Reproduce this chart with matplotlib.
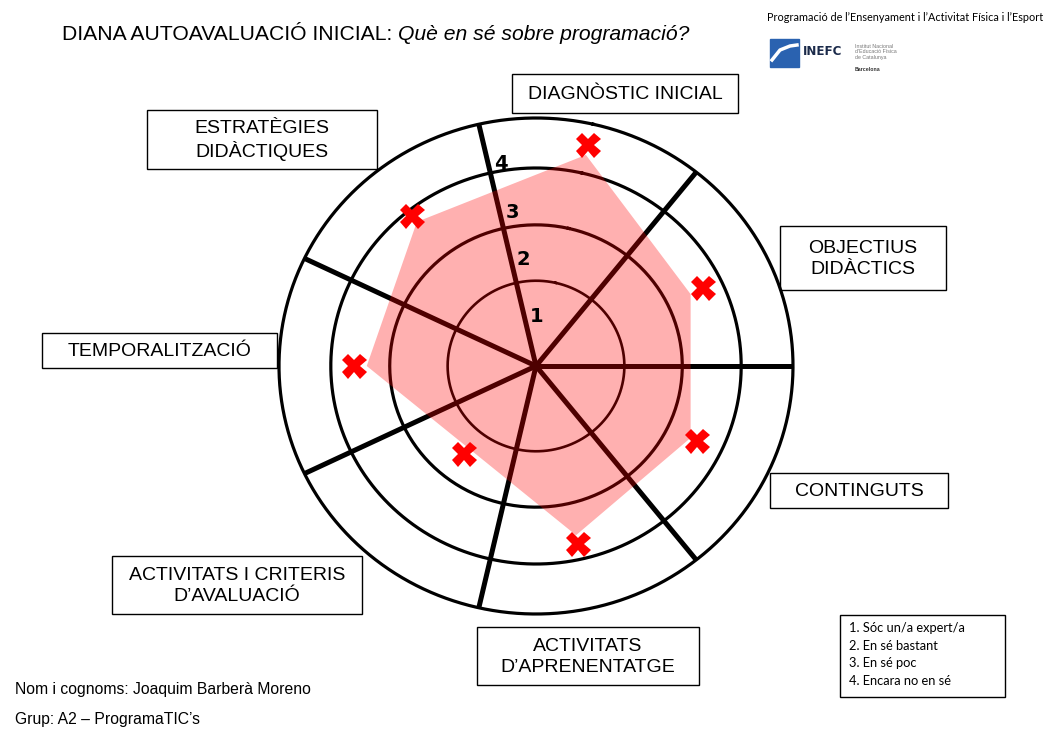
import numpy as np
import matplotlib
matplotlib.use("Agg")
import matplotlib.pyplot as plt
from matplotlib.patches import Rectangle

# ---------------- data ----------------
categories = ["DIAGNÒSTIC INICIAL", "OBJECTIUS\nDIDÀCTICS", "CONTINGUTS",
              "ACTIVITATS\nD’APRENENTATGE", "ACTIVITATS I CRITERIS\nD’AVALUACIÓ",
              "TEMPORALITZACIÓ", "ESTRATÈGIES\nDIDÀCTIQUES"]
scores = [3.58, 2.67, 2.55, 2.72, 1.48, 2.60, 2.89]          # red crosses
fill_scores = [3.37, 2.43, 2.43, 2.57, 1.35, 2.39, 2.76]     # shaded area vertices
ring_levels = [1, 2, 3, 4]
ring_labels = ["1", "2", "3", "4"]
legend_lines = ["1. Sóc un/a expert/a", "2. En sé bastant", "3. En sé poc", "4. Encara no en sé"]
title_main = "DIANA AUTOAVALUACIÓ INICIAL: "
title_italic = "Què en sé sobre programació?"
header = "Programació de l’Ensenyament i l’Activitat Física i l’Esport"
name_line = "Nom i cognoms: Joaquim Barberà Moreno"
group_line = "Grup: A2 – ProgramaTIC’s"

# ---------------- layout / style ----------------
W, H = 1045, 737
DPI = 100
ARIAL = "Liberation Sans"
CALIBRI = "Lato"
ring_radius = np.array([0, 87, 144, 202, 253]) / 253.0   # radius of each level boundary
label_pos = [0.6, 1.42, 2.29, 3.2]                        # where ring numbers sit (score units)
boxes = [  # cx, cy, w, h in pixels for each category box
    (625, 93.5, 226, 39),
    (863, 258, 166, 64),
    (859, 490.5, 178, 35),
    (588, 656, 222, 58),
    (237, 585, 250, 58),
    (159.5, 350.5, 235, 35),
    (262, 139.5, 230, 59),
]

fig = plt.figure(figsize=(W / DPI, H / DPI), dpi=DPI)
fig.patch.set_facecolor("white")

lay = fig.add_axes([0, 0, 1, 1])
lay.set_xlim(0, W)
lay.set_ylim(H, 0)
lay.axis("off")

# polar target (slightly wider than tall, as in the original drawing)
cx, cy, RX, RY = 536, 366, 257, 248
ax = fig.add_axes([(cx - RX) / W, (H - cy - RY) / H, 2 * RX / W, 2 * RY / H], projection="polar")
ax.set_aspect("auto")
ax.set_facecolor("none")
n = len(categories)
step = 2 * np.pi / n
ax.set_theta_offset(1.5 * step)      # one spoke pointing right, first category just right of top
ax.set_theta_direction(-1)
ax.set_ylim(0, 1)
ax.axis("off")

def to_r(s):
    return np.interp(s, np.arange(len(ring_radius)), ring_radius)

full = np.linspace(0, 2 * np.pi, 400)
for lev in ring_levels:
    lw = 1.9 if lev == 1 else 2.3
    ax.plot(full, np.full_like(full, to_r(lev)), color="black", lw=lw, clip_on=False, zorder=1)

spokes = (np.arange(n) + 0.5) * step
for t in spokes:
    ax.plot([t, t], [0, 1], color="black", lw=3.6, clip_on=False, zorder=1, solid_capstyle="butt")

theta = np.arange(n) * step
fr = to_r(np.array(fill_scores))
ax.fill(np.append(theta, theta[0]), np.append(fr, fr[0]), color="red", alpha=0.31, lw=0, zorder=2)

ax.plot(theta, to_r(np.array(scores)), linestyle="none", marker="X", markersize=18,
        color="#ff0000", markeredgewidth=0, clip_on=False, zorder=3)

lab_theta = -step / 2
for lab, p in zip(ring_labels, label_pos):
    ax.annotate(lab, xy=(lab_theta, to_r(p)), xytext=(9, 0), textcoords="offset points",
                ha="center", va="center", fontsize=14, fontweight="bold",
                family="DejaVu Sans", color="black", zorder=4)

# category boxes
for cat, (bx, by, bw, bh) in zip(categories, boxes):
    lay.add_patch(Rectangle((bx - bw / 2, by - bh / 2), bw, bh, fill=False,
                            edgecolor="black", lw=1.0))
    lay.text(bx, by + 1, cat, ha="center", va="center", fontsize=14, family=ARIAL,
             linespacing=1.3, color="black")

# title
t1 = lay.text(62, 40, title_main, ha="left", va="baseline", fontsize=15.2, family=ARIAL)
lay.annotate(title_italic, xy=(1, 0), xycoords=t1, ha="left", va="bottom",
             fontsize=15.2, family=ARIAL, style="italic")

# header + logo
lay.text(767, 21, header, ha="left", va="baseline", fontsize=7.8, family=CALIBRI)
lay.add_patch(Rectangle((770, 39), 29, 28, color="#2a62b0"))
lay.plot([772, 780, 790, 797], [60, 50, 46, 45], color="white", lw=2.5)
lay.text(803, 51, "INEFC", ha="left", va="center", fontsize=8.6, fontweight="bold",
         family="DejaVu Sans", color="#1b2a4a")
lay.text(855, 44, "Institut Nacional\nd’Educació Física\nde Catalunya", ha="left", va="top",
         fontsize=3.8, family=ARIAL, color="#777777", linespacing=1.1)
lay.text(855, 69, "Barcelona", ha="left", va="center", fontsize=3.8, family=ARIAL,
         fontweight="bold", color="#333333")

# level legend
lay.add_patch(Rectangle((840, 615), 165, 82, fill=False, edgecolor="black", lw=1.0))
for i, line in enumerate(legend_lines):
    lay.text(849, 632 + i * 17.7, line, ha="left", va="baseline", fontsize=9.3, family=CALIBRI)

# name / group
lay.text(15, 694, name_line, ha="left", va="baseline", fontsize=11.3, family=ARIAL)
lay.text(15, 724, group_line, ha="left", va="baseline", fontsize=11.3, family=ARIAL)

fig.savefig("out.png", dpi=DPI, facecolor="white")
